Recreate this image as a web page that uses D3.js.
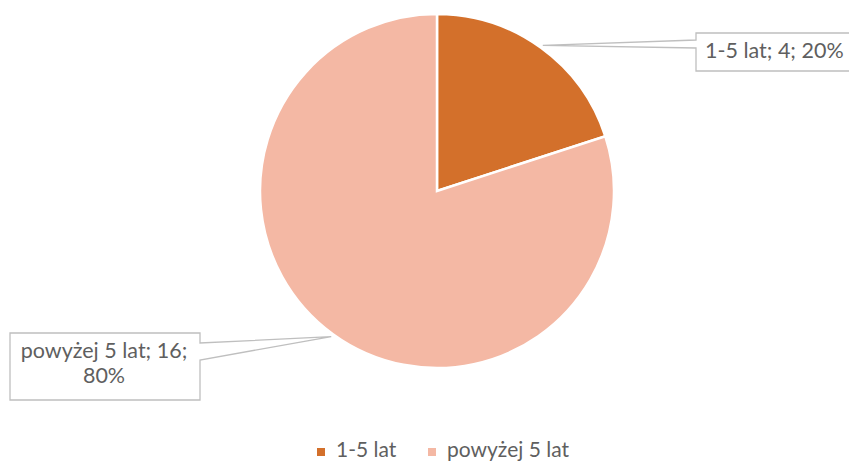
<!DOCTYPE html>
<html>
<head>
<meta charset="utf-8">
<script src="https://cdn.jsdelivr.net/npm/d3@7"></script>
<style>
  body { margin: 0; background: #fff; }
  text { font-family: Lato, "Open Sans", sans-serif; fill: #5f5f5f; }
</style>
</head>
<body>
<svg id="chart"></svg>
<script>
// chart data
const categories = ["1-5 lat", "powyżej 5 lat"];
const values = [4, 16];
const colors = ["#D3702B", "#F4B8A4"];

const width = 849, height = 463;
const cx = 437, cy = 191, radius = 177;

const svg = d3.select("#chart")
    .attr("width", width)
    .attr("height", height);

const data = categories.map((c, i) => ({ name: c, value: values[i] }));
const total = d3.sum(values);

const pie = d3.pie().value(d => d.value).sort(null);
const arcs = pie(data);
const arcGen = d3.arc().innerRadius(0).outerRadius(radius);
const edgeArc = d3.arc().innerRadius(radius + 3).outerRadius(radius + 3);

const g = svg.append("g").attr("transform", `translate(${cx},${cy})`);

g.selectAll("path")
    .data(arcs)
    .enter()
    .append("path")
    .attr("d", arcGen)
    .attr("fill", (d, i) => colors[i])
    .attr("stroke", "#fff")
    .attr("stroke-width", 2.5)
    .attr("stroke-linejoin", "miter");

// callout boxes (Excel style data labels)
const labelBoxes = [
    { x: 696, y: 33, w: 160, h: 38, anchorY: [40, 48], side: "left",
      lines: (d) => [`${d.data.name}; ${d.data.value}; ${Math.round(d.data.value / total * 100)}%`] },
    { x: 10, y: 333, w: 190, h: 67, anchorY: [343, 360], side: "right",
      lines: (d) => [`${d.data.name}; ${d.data.value};`, `${Math.round(d.data.value / total * 100)}%`] }
];

arcs.forEach((d, i) => {
    const b = labelBoxes[i];
    // point on the pie edge (slice middle) where the callout starts
    const [ox, oy] = edgeArc.centroid(d);
    const px = cx + ox, py = cy + oy;

    const ex = b.side === "left" ? b.x : b.x + b.w;
    let pts;
    if (b.side === "left") {
        pts = [[b.x, b.y], [b.x + b.w, b.y], [b.x + b.w, b.y + b.h], [b.x, b.y + b.h],
               [b.x, b.anchorY[1]], [px, py], [b.x, b.anchorY[0]]];
    } else {
        pts = [[b.x, b.y], [b.x + b.w, b.y], [ex, b.anchorY[0]], [px, py], [ex, b.anchorY[1]],
               [b.x + b.w, b.y + b.h], [b.x, b.y + b.h]];
    }
    svg.append("polygon")
        .attr("points", pts.map(p => p.join(",")).join(" "))
        .attr("fill", "#fff")
        .attr("stroke", "#BFBFBF")
        .attr("stroke-width", 1.3);

    const lines = b.lines(d);
    const tx = b.side === "left" ? b.x + 9 : b.x + b.w / 2 - 1;
    const t = svg.append("text")
        .attr("font-size", 21.5)
        .attr("text-anchor", b.side === "left" ? "start" : "middle");
    lines.forEach((l, j) => {
        t.append("tspan")
            .attr("x", tx)
            .attr("y", b.y + 25 + j * 25)
            .text(l);
    });
});

// legend
const legendX = [317, 428];
const legend = svg.append("g");
categories.forEach((c, i) => {
    legend.append("rect")
        .attr("x", legendX[i])
        .attr("y", 448)
        .attr("width", 8)
        .attr("height", 8)
        .attr("fill", colors[i]);
    legend.append("text")
        .attr("x", legendX[i] + 19)
        .attr("y", 457)
        .attr("font-size", 21)
        .text(c);
});
</script>
</body>
</html>
